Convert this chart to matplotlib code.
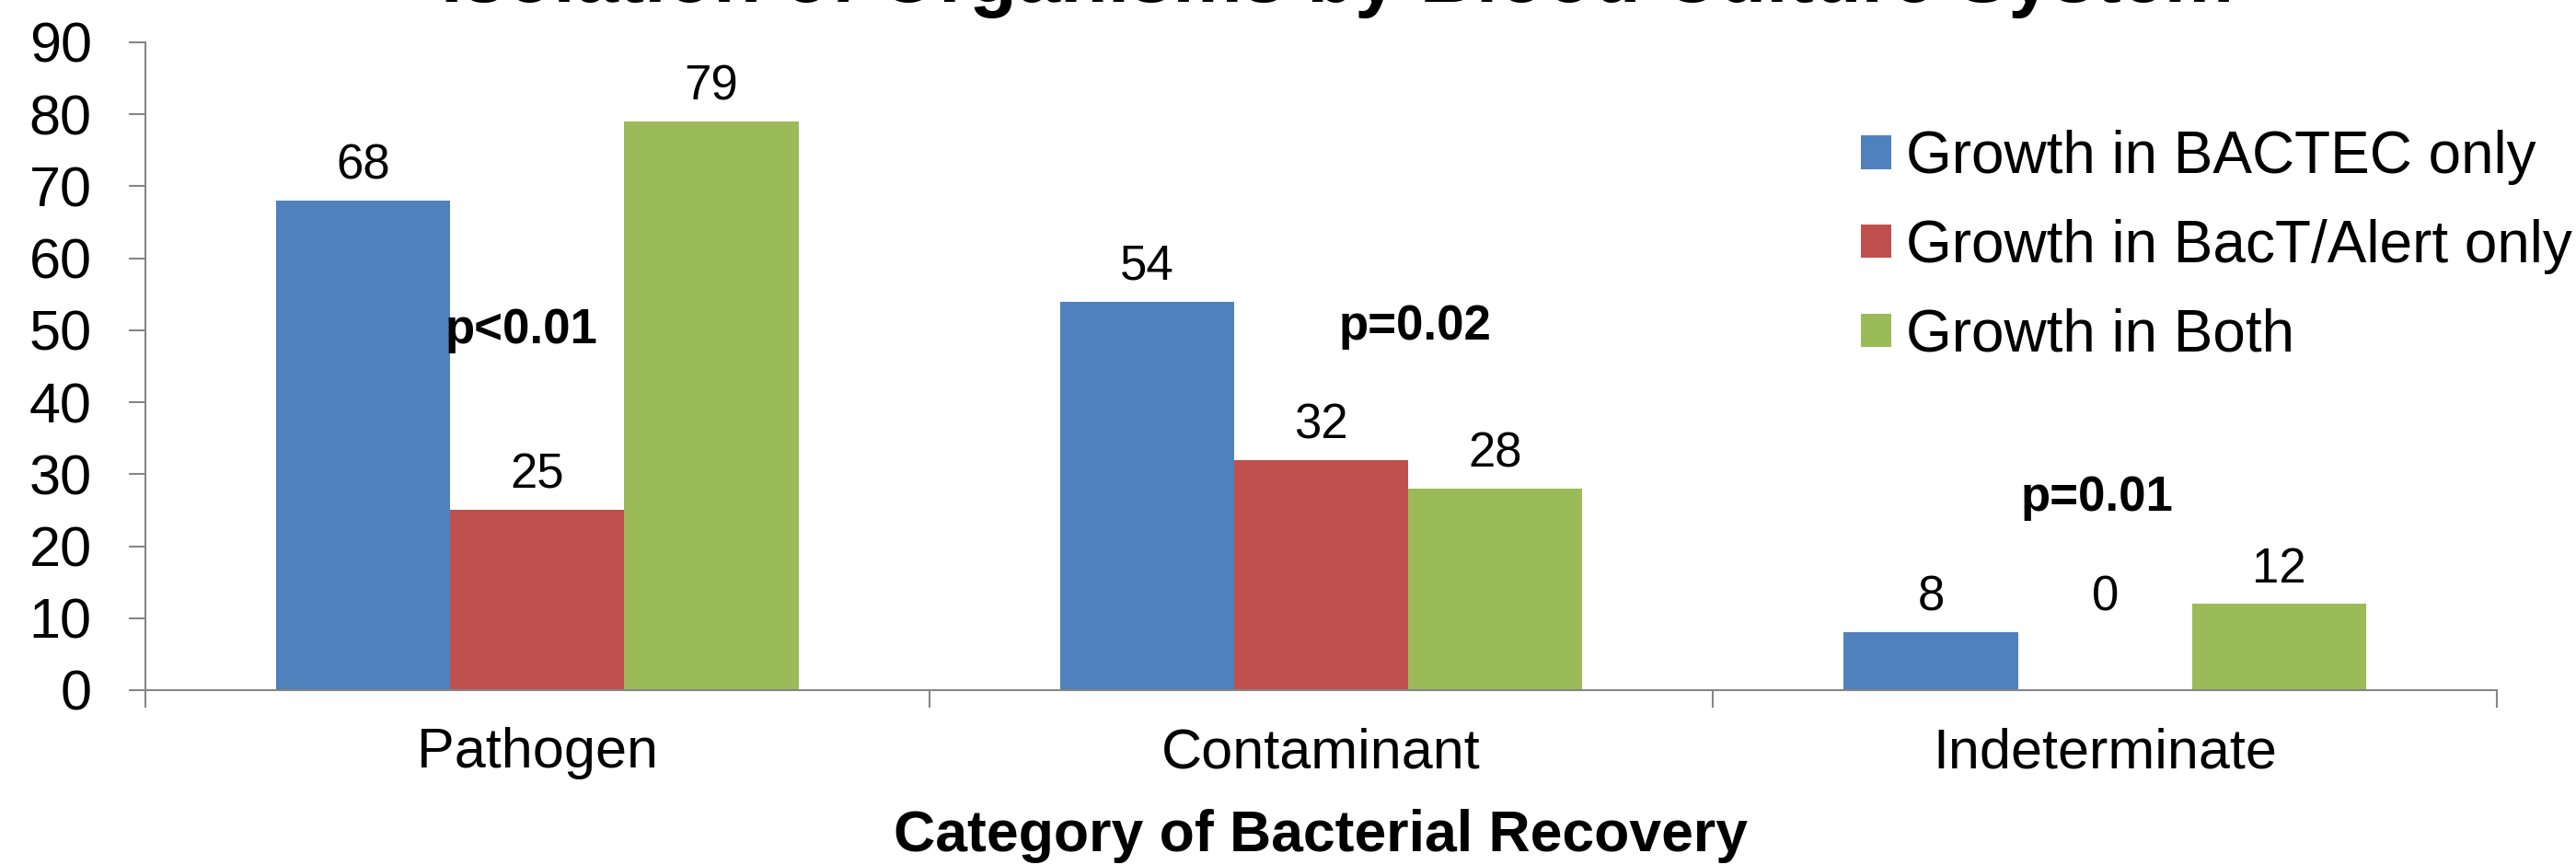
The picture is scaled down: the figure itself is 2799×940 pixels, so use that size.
import matplotlib.pyplot as plt
import numpy as np

# Data
categories = ['Pathogen', 'Contaminant', 'Indeterminate']
series_names = ['Growth in BACTEC only', 'Growth in BacT/Alert only', 'Growth in Both']
bactec = [68, 54, 8]
bact_alert = [25, 32, 0]
both = [79, 28, 12]
p_labels = ['p<0.01', 'p=0.02', 'p=0.01']
p_x = [-0.02, 1.12, 1.99]
p_y = [48.2, 48.7, 24.9]

colors = ['#4F81BD', '#C0504D', '#9BBB59']
series = [bactec, bact_alert, both]

plt.rcParams['font.family'] = ['Liberation Sans', 'DejaVu Sans']

W, H = 2799, 940
fig = plt.figure(figsize=(W / 100, H / 100), dpi=100)
ax = fig.add_axes([158 / W, 1 - 750 / H, (2713 - 158) / W, (750 - 46) / H])

x = np.arange(len(categories))
bw = 1 / 4.5
for i, (vals, c, name) in enumerate(zip(series, colors, series_names)):
    pos = x + (i - 1) * bw
    ax.bar(pos, vals, width=bw, color=c, label=name, zorder=2)
    for j, (px, v) in enumerate(zip(pos, vals)):
        # zero bars get their label at the height of the lowest other bar in the group
        ly = v if v > 0 else min(s[j] for s in series if s[j] > 0)
        ax.annotate(str(v), (px, ly), xytext=(0, 17), textcoords='offset points',
                    ha='center', va='baseline', fontsize=38)

for lab, px, py in zip(p_labels, p_x, p_y):
    ax.text(px, py, lab, ha='center', va='baseline', fontsize=38, fontweight='bold')

ax.set_xlim(-0.5, 2.5)
ax.set_ylim(0, 90)
ax.set_yticks(np.arange(0, 91, 10))
ax.set_xticks(x)
ax.set_xticklabels(categories)
ax.set_xticks([-0.5, 0.5, 1.5, 2.5], minor=True)

gray = '#868686'
for s in ['top', 'right']:
    ax.spines[s].set_visible(False)
for s in ['left', 'bottom']:
    ax.spines[s].set_color(gray)
    ax.spines[s].set_linewidth(1.5)

ax.tick_params(axis='y', length=13, width=1.5, color=gray, labelsize=44, pad=29)
ax.tick_params(axis='x', which='major', length=0, labelsize=44, pad=29)
ax.tick_params(axis='x', which='minor', length=14, width=1.5, color=gray)

fig.text(0.5128, 1 - 925 / H, 'Category of Bacterial Recovery', ha='center', va='baseline',
         fontsize=45, fontweight='bold')
# title sits mostly above the canvas, only its lower part shows
fig.text(0.519, 1 - 2 / H, 'Isolation of Organisms by Blood Culture System', ha='center',
         va='baseline', fontsize=61, fontweight='bold')

ax.legend(loc='upper left', bbox_to_anchor=(2022 / W, 1 - 141 / H),
          bbox_transform=fig.transFigure, frameon=False, fontsize=46,
          handlelength=0.52, handleheight=0.5, handletextpad=0.25,
          labelspacing=0.577, borderpad=0, borderaxespad=0)

fig.savefig('out.png', dpi=100)
